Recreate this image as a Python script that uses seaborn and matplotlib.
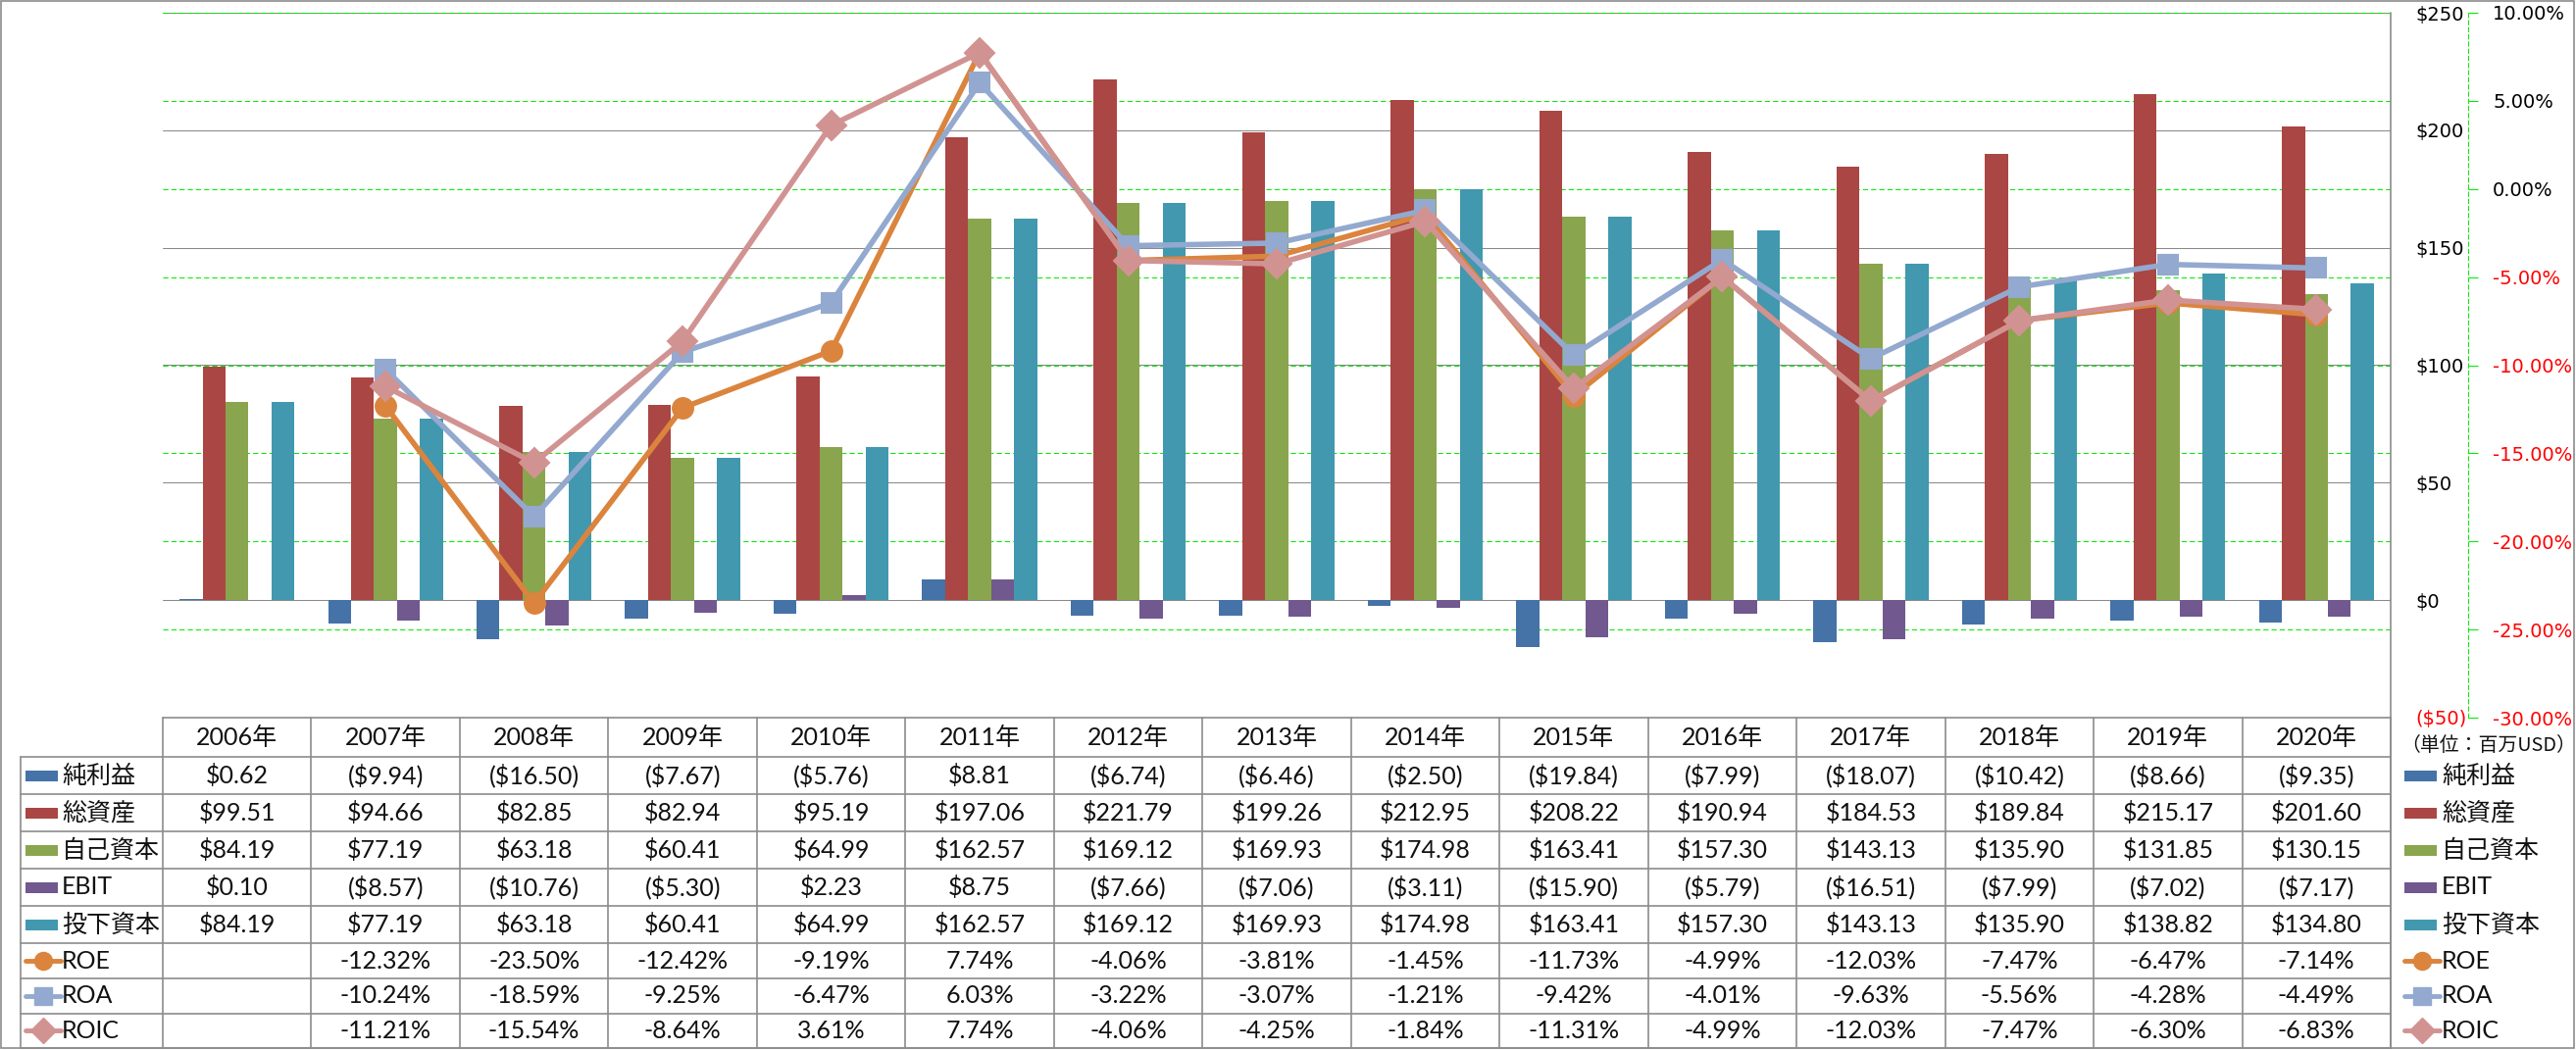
import numpy as np
import pandas as pd
import matplotlib
matplotlib.use('Agg')
import matplotlib.pyplot as plt
import matplotlib.transforms as mtransforms
from matplotlib.lines import Line2D
from matplotlib.patches import Rectangle
import seaborn as sns

# data (USD millions / %)
years = ['2006年', '2007年', '2008年', '2009年', '2010年', '2011年', '2012年', '2013年',
         '2014年', '2015年', '2016年', '2017年', '2018年', '2019年', '2020年']
net_income = [0.62, -9.94, -16.50, -7.67, -5.76, 8.81, -6.74, -6.46, -2.50, -19.84, -7.99, -18.07, -10.42, -8.66, -9.35]
total_assets = [99.51, 94.66, 82.85, 82.94, 95.19, 197.06, 221.79, 199.26, 212.95, 208.22, 190.94, 184.53, 189.84, 215.17, 201.60]
equity = [84.19, 77.19, 63.18, 60.41, 64.99, 162.57, 169.12, 169.93, 174.98, 163.41, 157.30, 143.13, 135.90, 131.85, 130.15]
ebit = [0.10, -8.57, -10.76, -5.30, 2.23, 8.75, -7.66, -7.06, -3.11, -15.90, -5.79, -16.51, -7.99, -7.02, -7.17]
invested = [84.19, 77.19, 63.18, 60.41, 64.99, 162.57, 169.12, 169.93, 174.98, 163.41, 157.30, 143.13, 135.90, 138.82, 134.80]
# ratios start in 2007
roe = [-12.32, -23.50, -12.42, -9.19, 7.74, -4.06, -3.81, -1.45, -11.73, -4.99, -12.03, -7.47, -6.47, -7.14]
roa = [-10.24, -18.59, -9.25, -6.47, 6.03, -3.22, -3.07, -1.21, -9.42, -4.01, -9.63, -5.56, -4.28, -4.49]
roic = [-11.21, -15.54, -8.64, 3.61, 7.74, -4.06, -4.25, -1.84, -11.31, -4.99, -12.03, -7.47, -6.30, -6.83]

bar_names = ['純利益', '総資産', '自己資本', 'EBIT', '投下資本']
bar_colors = ['#4572A7', '#AA4643', '#89A54E', '#71588F', '#4198AF']
line_names = ['ROE', 'ROA', 'ROIC']
line_colors = ['#DB843D', '#93A9CF', '#D19392']
line_markers = ['o', 's', 'D']

usd_ticks = [-50, 0, 50, 100, 150, 200, 250]
pct_ticks = [-30, -25, -20, -15, -10, -5, 0, 5, 10]

sns.set_theme(style='white')
plt.rcParams['font.family'] = ['Lato', 'Noto Sans CJK JP', 'DejaVu Sans']

W, H = 2627, 1071
fig = plt.figure(figsize=(W / 100, H / 100), dpi=100)
fig.patch.set_facecolor('white')

# plot area in pixels
pl, pr, pt, pb = 166, 2438, 13, 732
ax = fig.add_axes([pl / W, 1 - pb / H, (pr - pl) / W, (pb - pt) / H])
ax.patch.set_alpha(0)

bar_df = pd.DataFrame({
    'year': np.tile(years, len(bar_names)),
    'series': np.repeat(bar_names, len(years)),
    'value': np.concatenate([net_income, total_assets, equity, ebit, invested]),
})
sns.barplot(data=bar_df, x='year', y='value', hue='series', order=years, hue_order=bar_names,
            palette=bar_colors, saturation=1, width=0.775, gap=0, errorbar=None,
            legend=False, linewidth=0, ax=ax, zorder=2)

ax2 = ax.twinx()
for vals, c, m in zip([roe, roa, roic], line_colors, line_markers):
    sns.lineplot(x=years[1:], y=vals, ax=ax2, color=c, marker=m, markersize=15,
                 linewidth=4, markeredgecolor=c, markeredgewidth=1.5, zorder=3)

ax.set_xlim(-0.5, len(years) - 0.5)
ax.set_ylim(-50, 250)
ax2.set_ylim(-30, 10)
ax.set_xlabel('')
ax.set_ylabel('')
ax2.set_ylabel('')
ax.tick_params(axis='x', length=0, labelbottom=False)
ax2.tick_params(axis='x', length=0, labelbottom=False)

# gridlines: gray for USD, green dashed for % (kept behind the bars)
ax.set_axisbelow(True)
ax.yaxis.grid(True, color='#8A8A8A', linewidth=0.75)
ax.xaxis.grid(False)
ax2.grid(False)
trans = mtransforms.blended_transform_factory(ax.transAxes, ax2.transData)
ax.hlines(pct_ticks, 0, 1, transform=trans, colors='#00EE00', linewidth=0.75,
          linestyles=(0, (5, 3)), zorder=1)

for s in ax.spines.values():
    s.set_visible(False)
for k, s in ax2.spines.items():
    s.set_visible(k == 'right')
ax2.spines['right'].set_position(('outward', 57))
ax2.spines['right'].set_color('#00EE00')
ax2.spines['right'].set_linestyle((0, (4, 3)))
ax2.spines['right'].set_linewidth(0.75)

ax.yaxis.tick_right()
ax.set_yticks(usd_ticks, labels=[f'${v}' if v >= 0 else f'(${-v})' for v in usd_ticks])
ax.tick_params(axis='y', length=0, pad=18)
for t, v in zip(ax.get_yticklabels(), usd_ticks):
    t.set_color('red' if v < 0 else 'black')
    t.set_fontsize(14)
    t.set_fontfamily(['DejaVu Sans'])

ax2.set_yticks(pct_ticks, labels=[f'{v:.2f}%' for v in pct_ticks])
ax2.tick_params(axis='y', direction='out', length=7, width=0.75, color='#00EE00', pad=11)
for t, v in zip(ax2.get_yticklabels(), pct_ticks):
    t.set_color('red' if v < 0 else 'black')
    t.set_fontsize(14)
    t.set_fontfamily(['DejaVu Sans'])

# data table drawn on a pixel overlay
ov = fig.add_axes([0, 0, 1, 1])
ov.set_xlim(0, W)
ov.set_ylim(H, 0)
ov.axis('off')
ov.set_zorder(5)

grid_c = '#8C8C8C'
lw = 1.2
col_w = (pr - pl) / len(years)
head_t = pb
row_lines = [772, 810, 848, 886, 924, 962, 998, 1033.5, 1069]
tbl_b = row_lines[-1]
lab_l = 21

ov.add_patch(Rectangle((1, 1), W - 3, tbl_b - 1, fill=False, edgecolor=grid_c, linewidth=lw))
ov.plot([pr, pr], [pt, tbl_b], color=grid_c, lw=lw)
ov.plot([pl, pr], [head_t, head_t], color=grid_c, lw=lw)
for y in row_lines:
    ov.plot([lab_l, pr], [y, y], color=grid_c, lw=lw)
ov.plot([lab_l, lab_l], [row_lines[0], tbl_b], color=grid_c, lw=lw)
for k in range(len(years) + 1):
    x = pl + k * col_w
    ov.plot([x, x], [head_t, tbl_b], color=grid_c, lw=lw)

fs = 18
for k, yr in enumerate(years):
    ov.text(pl + (k + 0.5) * col_w, (head_t + row_lines[0]) / 2, yr, ha='center', va='center',
            fontsize=fs, color='#111111')


def usd(v):
    return f'${v:.2f}' if v >= 0 else f'(${-v:.2f})'


row_c = [(a + b) / 2 for a, b in zip(row_lines[:-1], row_lines[1:])]
rows = [net_income, total_assets, equity, ebit, invested]
for r, vals in enumerate(rows):
    for k, v in enumerate(vals):
        ov.text(pl + (k + 0.5) * col_w, row_c[r], usd(v), ha='center', va='center', fontsize=fs, color='#111111')
for r, vals in enumerate([roe, roa, roic]):
    for k, v in enumerate(vals):
        ov.text(pl + (k + 1.5) * col_w, row_c[r + 5], f'{v:.2f}%', ha='center', va='center', fontsize=fs, color='#111111')


def legend_key(x0, yc, i):
    if i < 5:
        ov.add_patch(Rectangle((x0, yc - 5.5), 33, 11, color=bar_colors[i], linewidth=0))
    else:
        c = line_colors[i - 5]
        ov.add_line(Line2D([x0, x0 + 36], [yc, yc], color=c, lw=3.5, solid_capstyle='round'))
        ov.add_line(Line2D([x0 + 18], [yc], marker=line_markers[i - 5], markersize=13, color=c,
                           markeredgecolor=c))


labels = bar_names + line_names
for r, name in enumerate(labels):
    legend_key(26, row_c[r], r)
    ov.text(63, row_c[r], name, ha='left', va='center', fontsize=fs, color='#111111')
    legend_key(2452, row_c[r], r)
    ov.text(2490, row_c[r], name, ha='left', va='center', fontsize=fs, color='#111111')

ov.text(2448, 761, '（単位：百万USD）', ha='left', va='center', fontsize=14.3,
        family=['Noto Sans CJK JP', 'DejaVu Sans'], color='#111111')

fig.savefig('out.png', dpi=100, facecolor='white')
